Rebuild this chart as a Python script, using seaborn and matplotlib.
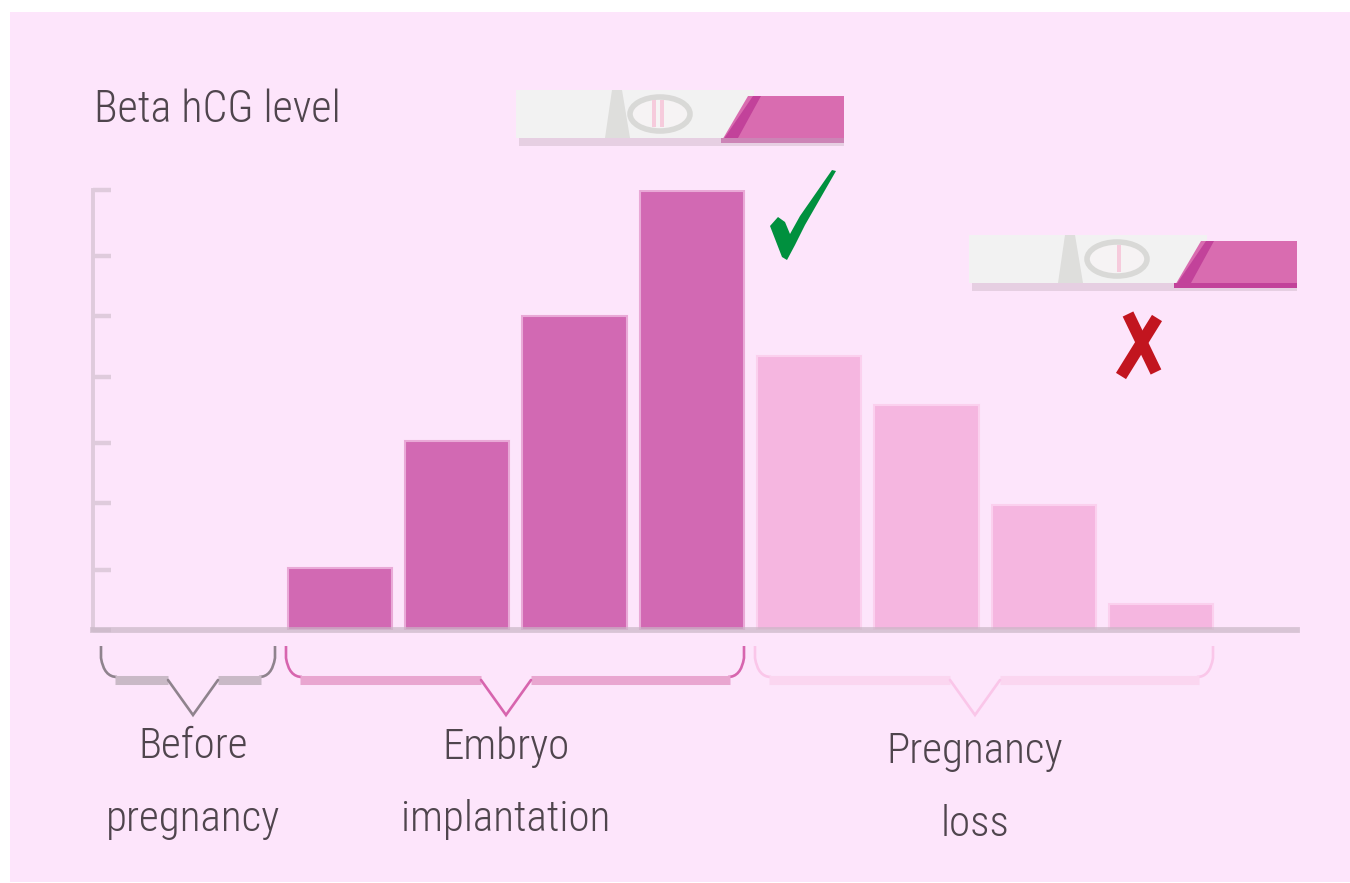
import matplotlib
matplotlib.use("Agg")
import matplotlib.pyplot as plt
from matplotlib.patches import Polygon, Rectangle, Ellipse, PathPatch
from matplotlib.path import Path
from matplotlib import font_manager as fm
import seaborn as sns
import pandas as pd

phases = ["Before pregnancy"] * 2 + ["Embryo implantation"] * 4 + ["Pregnancy loss"] * 4
weeks = ["b1", "b2", "e1", "e2", "e3", "e4", "l1", "l2", "l3", "l4"]
hcg_level = [0, 0, 0.99, 3.0, 5.0, 6.98, 4.36, 3.58, 1.99, 0.41]
tick_values = [0, 0.955, 2.02, 2.975, 4.025, 5.0, 5.95, 7.0]
phase_colors = {"Before pregnancy": "#D269B3", "Embryo implantation": "#D269B3", "Pregnancy loss": "#F5B6E0"}
edge_colors = {"Before pregnancy": "#E9A9D7", "Embryo implantation": "#E9A9D7", "Pregnancy loss": "#FBD0EE"}

BG = "#FDE5FB"
W, H = 1350, 883
sns.set_theme(style="white")
names = {f.name for f in fm.fontManager.ttflist}
font = next((n for n in ["Liberation Sans Narrow", "Roboto Condensed", "Open Sans Condensed", "Lato"] if n in names), "Roboto")
plt.rcParams["font.family"] = [font, "DejaVu Sans"]

fig = plt.figure(figsize=(W / 100, H / 100), dpi=100, facecolor="white")
bg = fig.add_axes([0, 0, 1, 1], zorder=0)
bg.set_xlim(0, W); bg.set_ylim(H, 0); bg.axis("off")
bg.add_patch(Rectangle((10, 12), W - 10, 870, fc=BG, ec="none"))

x0, x1, yb, yt = 93, 1297, 630, 190
ax = fig.add_axes([x0 / W, 1 - yb / H, (x1 - x0) / W, (yb - yt) / H], zorder=1)
ax.patch.set_alpha(0)
df = pd.DataFrame({"week": weeks, "level": hcg_level, "phase": phases})
sns.barplot(data=df, x="week", y="level", hue="phase", palette=phase_colors, dodge=False,
            width=0.89, legend=False, ax=ax, saturation=1)
for bar in ax.patches:
    h = bar.get_height()
    if h <= 0:
        bar.set_linewidth(0)
        continue
    match = [p for p, v in zip(phases, hcg_level) if abs(v - h) < 1e-9][0]
    bar.set_edgecolor(edge_colors[match])
    bar.set_linewidth(1.5)
step = 117.3
ax.set_xlim(-(105.4 - x0) / step, -(105.4 - x0) / step + (x1 - x0) / step)
ax.set_ylim(0, 7.0)
ax.set_yticks(tick_values)
ax.set_yticklabels([])
ax.set_xticks([])
ax.set_xlabel(""); ax.set_ylabel("")
AXC = "#C9B7C6"
ax.tick_params(axis="y", direction="in", length=13, width=3.2, color="#DFCBDC", left=True)
for s in ["top", "right"]:
    ax.spines[s].set_visible(False)
ax.spines["left"].set_color("#DFCBDC")
ax.spines["left"].set_linewidth(2.8)
ax.spines["bottom"].set_color(AXC)
ax.spines["bottom"].set_alpha(0.7)
ax.spines["bottom"].set_linewidth(4.2)

ov = fig.add_axes([0, 0, 1, 1], zorder=2)
ov.set_xlim(0, W); ov.set_ylim(H, 0); ov.axis("off"); ov.patch.set_alpha(0)

TXT = "#4F454D"
labels = [(193, 747, "Before"), (193, 820, "pregnancy"), (506, 747, "Embryo"), (506, 820, "implantation"),
          (975, 751, "Pregnancy"), (975, 824, "loss")]
probe = ov.text(0, 0, "implantation", fontsize=30)
rend = fig.canvas.get_renderer()
fs = 30 * 214 / probe.get_window_extent(rend).width
probe.remove()
ov.text(94, 110, "Beta hCG level", fontsize=fs * 1.02, color=TXT, va="center", ha="left", fontweight="light")
for cx, cy, s in labels:
    ov.text(cx, cy, s, fontsize=fs, color=TXT, va="center", ha="center", fontweight="light")


def brace(xl, xr, xm, line, flat, lw, ytop=646, yflat=680, ytip=715):
    r = 16
    ov.plot([xl + r - 2, xm - 25], [yflat, yflat], color=flat, lw=6.5, solid_capstyle="butt")
    ov.plot([xm + 25, xr - r + 2], [yflat, yflat], color=flat, lw=6.5, solid_capstyle="butt")
    codes = [Path.MOVETO, Path.LINETO, Path.CURVE3, Path.CURVE3]
    verts = [(xl, ytop), (xl, ytop + 12), (xl + 3, yflat - 3), (xl + r, yflat - 3)]
    ov.add_patch(PathPatch(Path(verts, codes), fc="none", ec=line, lw=lw))
    verts = [(xr, ytop), (xr, ytop + 12), (xr - 3, yflat - 3), (xr - r, yflat - 3)]
    ov.add_patch(PathPatch(Path(verts, codes), fc="none", ec=line, lw=lw))
    ov.plot([xm - 25, xm, xm + 25], [yflat, ytip, yflat], color=line, lw=lw, solid_joinstyle="miter")


brace(101, 275, 193, "#8F838D", "#C9B9C6", 1.9)
brace(286, 744, 506, "#D765AE", "#E9A6D0", 1.9)
brace(755, 1213, 975, "#FAC6E9", "#FBD6F0", 1.9)


def test_strip(x, y, line_offsets, cx, band):
    w, h = 328, 48
    ov.add_patch(Rectangle((x + 3, y + h), w - 3, 8, fc="#E6CFE2", ec="none"))
    ov.add_patch(Rectangle((x, y), w - 90, h, fc="#F2F2F2", ec="none"))
    ov.add_patch(Polygon([(x + 96, y), (x + 106, y), (x + 114, y + h), (x + 89, y + h)], fc="#DEDEDC", ec="none"))
    ov.add_patch(Polygon([(x + 232, y + 6), (x + w, y + 6), (x + w, y + h + 4), (x + 205, y + h + 4)], fc="#D96CB0", ec="none"))
    ov.add_patch(Polygon([(x + 237, y + 6), (x + 245, y + 6), (x + 222, y + h), (x + 205, y + h + 5)], fc="#C2429A", ec="none"))
    ov.add_patch(Rectangle((x + 205, y + h), w - 205, 5, fc=band, ec="none"))
    ov.add_patch(Ellipse((cx, y + 24), 60, 34, fc="#F6F3F4", ec="#D9D9D7", lw=4))
    for o in line_offsets:
        ov.add_patch(Rectangle((cx + o - 2, y + 10), 4, 27, fc="#F6CBDC", ec="none"))


test_strip(516, 90, [-6, 2], 660, "#CC84B6")
test_strip(969, 235, [2], 1117, "#C2429A")

ov.add_patch(Polygon([(770, 226), (778, 217), (785, 222), (790, 234), (800, 216), (832, 170), (836, 171),
                      (805, 225), (795, 245), (787, 260), (782, 257)], fc="#00903E", ec="none"))
ov.plot([1128, 1156], [314, 372], color="#C2151F", lw=8.5, solid_capstyle="butt")
ov.plot([1157, 1121], [318, 376], color="#C2151F", lw=8.5, solid_capstyle="butt")

fig.savefig("out.png", dpi=100, facecolor="white")
